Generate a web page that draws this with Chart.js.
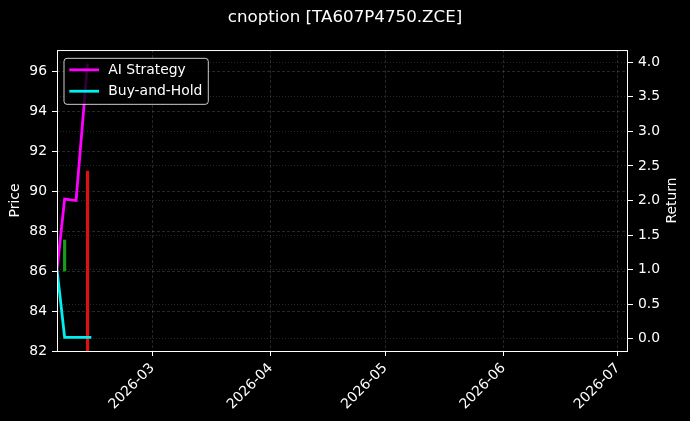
<!DOCTYPE html>
<html>
<head>
<meta charset="utf-8">
<script src="https://cdn.jsdelivr.net/npm/chart.js@4.4.1/dist/chart.umd.min.js"></script>
<style>
html, body { margin: 0; padding: 0; background: #000; }
canvas { display: block; }
</style>
</head>
<body>
<canvas id="chart" width="690" height="421"></canvas>
<script>
// strategy curves (right axis, Return)
const dates = ['2026-02-04', '2026-02-06', '2026-02-09', '2026-02-12', '2026-02-13'];
const aiStrategy = [1.0, 2.02, 2.0, 3.98, null];
const buyAndHold = [1.0, 0.02, 0.02, 0.02, 0.02];

// candles (left axis, Price)
const candleDates = ['2026-02-06', '2026-02-12'];
const candleLow = [86.0, 80.0];
const candleHigh = [87.55, 91.0];
const candleColors = ['#1a9a1a', '#e01010'];

// x axis
const monthTicks = ['2026-03-01', '2026-04-01', '2026-05-01', '2026-06-01', '2026-07-01'];
const xStart = '2026-02-04';
const xEnd = '2026-07-03T16:00:00Z';

function toMs(s) {
    return Date.parse(s.length === 10 ? s + 'T00:00:00Z' : s);
}

function monthLabel(v) {
    const d = new Date(v);
    return d.getUTCFullYear() + '-' + String(d.getUTCMonth() + 1).padStart(2, '0');
}

const gridColor = 'rgba(128,128,128,0.38)';

const overlayPlugin = {
    id: 'overlay',
    afterDatasetsDraw(chart) {
        const ctx = chart.ctx;
        const a = chart.chartArea;

        // frame
        ctx.save();
        ctx.strokeStyle = '#ffffff';
        ctx.lineWidth = 1;
        ctx.strokeRect(a.left + 0.5, a.top + 0.5, a.right - a.left - 1, a.bottom - a.top);
        ctx.restore();

        // legend in the upper left corner
        const bx = a.left + 7, by = a.top + 8.3, bw = 144.3, bh = 46;
        ctx.save();
        ctx.beginPath();
        ctx.roundRect(bx, by, bw, bh, 3);
        ctx.fillStyle = 'rgba(0,0,0,0.8)';
        ctx.fill();
        ctx.strokeStyle = 'rgba(255,255,255,0.8)';
        ctx.lineWidth = 1;
        ctx.stroke();
        ctx.font = "13.9px 'DejaVu Sans', sans-serif";
        ctx.textBaseline = 'middle';
        ctx.textAlign = 'left';
        chart.data.datasets.slice(0, 2).forEach((ds, i) => {
            const y = by + 11.5 + i * 21.4;
            ctx.strokeStyle = ds.borderColor;
            ctx.lineWidth = ds.borderWidth;
            ctx.beginPath();
            ctx.moveTo(bx + 5.3, y);
            ctx.lineTo(bx + 35, y);
            ctx.stroke();
            ctx.fillStyle = '#ffffff';
            ctx.fillText(ds.label, bx + 44.3, y + 0.5);
        });
        ctx.restore();
    },
    afterDraw(chart) {
        // right axis title, reading upwards like the left one
        const ctx = chart.ctx;
        const a = chart.chartArea;
        ctx.save();
        ctx.translate(672.3, (a.top + a.bottom) / 2);
        ctx.rotate(-Math.PI / 2);
        ctx.font = "13.9px 'DejaVu Sans', sans-serif";
        ctx.fillStyle = '#ffffff';
        ctx.textAlign = 'center';
        ctx.textBaseline = 'middle';
        ctx.fillText('Return', 0, 0);
        ctx.restore();
    }
};

Chart.defaults.font.family = "'DejaVu Sans', sans-serif";
Chart.defaults.font.size = 13.9;
Chart.defaults.color = '#ffffff';

const ctx = document.getElementById('chart').getContext('2d');

new Chart(ctx, {
    type: 'line',
    data: {
        datasets: [
            {
                label: 'AI Strategy',
                data: dates.map((d, i) => ({ x: toMs(d), y: aiStrategy[i] })),
                borderColor: '#ff00ff',
                borderWidth: 2.8,
                pointRadius: 0,
                tension: 0,
                yAxisID: 'y1'
            },
            {
                label: 'Buy-and-Hold',
                data: dates.map((d, i) => ({ x: toMs(d), y: buyAndHold[i] })),
                borderColor: '#00f0f0',
                borderWidth: 2.8,
                pointRadius: 0,
                tension: 0,
                yAxisID: 'y1'
            },
            {
                type: 'bar',
                label: 'Price',
                data: candleDates.map((d, i) => ({ x: toMs(d), y: [candleLow[i], candleHigh[i]] })),
                backgroundColor: candleColors,
                barThickness: 2.5,
                clip: 0,
                yAxisID: 'y'
            }
        ]
    },
    options: {
        responsive: false,
        animation: false,
        devicePixelRatio: 1,
        layout: { padding: 0 },
        plugins: {
            legend: { display: false },
            tooltip: { enabled: false },
            title: {
                display: true,
                text: 'cnoption [TA607P4750.ZCE]',
                color: '#ffffff',
                font: { size: 16.7, weight: 'normal' },
                padding: { top: 8, bottom: 22 }
            }
        },
        scales: {
            x: {
                type: 'linear',
                min: toMs(xStart),
                max: toMs(xEnd),
                offset: false,
                afterBuildTicks: s => { s.ticks = monthTicks.map(m => ({ value: toMs(m) })); },
                afterFit: s => { s.height = 70; },
                ticks: {
                    autoSkip: false,
                    minRotation: 45,
                    maxRotation: 45,
                    padding: 4,
                    callback: v => monthLabel(v)
                },
                grid: { offset: false, color: gridColor, lineWidth: 0.8, tickColor: '#ffffff', tickLength: 5, tickWidth: 1 },
                border: { display: false, dash: [3, 2] }
            },
            y: {
                position: 'left',
                min: 82,
                max: 97.05,
                afterFit: s => { s.width = 57; },
                ticks: { stepSize: 2, includeBounds: false, padding: 5 },
                grid: { color: gridColor, lineWidth: 0.8, tickColor: '#ffffff', tickLength: 5, tickWidth: 1 },
                border: { display: false, dash: [3, 2] },
                title: { display: true, text: 'Price', color: '#ffffff', padding: { top: 7.4, bottom: 0 } }
            },
            y1: {
                position: 'right',
                min: -0.178,
                max: 4.178,
                afterFit: s => { s.width = 62; },
                ticks: { stepSize: 0.5, includeBounds: false, padding: 5, callback: v => v.toFixed(1) },
                grid: { color: gridColor, lineWidth: 0.8, tickColor: '#ffffff', tickLength: 5, tickWidth: 1 },
                border: { display: false, dash: [1, 2] }
            }
        }
    },
    plugins: [overlayPlugin]
});
</script>
</body>
</html>
